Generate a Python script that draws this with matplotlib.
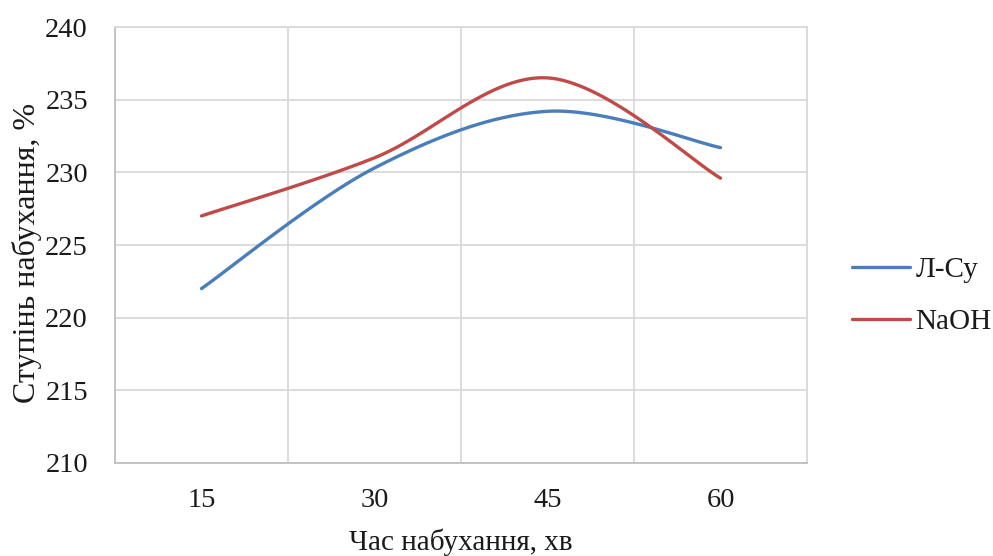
# Крива ступеня набухання від часу
import numpy as np
import matplotlib
matplotlib.use('Agg')
import matplotlib.pyplot as plt

# --- дані ---
categories = ['15', '30', '45', '60']
series_names = ['Л-Су', 'NaOH']
l_su = [222.0, 230.3, 234.2, 231.7]
naoh = [227.0, 231.0, 236.5, 229.6]
y_ticks = [210, 215, 220, 225, 230, 235, 240]

colors = ['#4a7ebb', '#be4b48']


def smooth(xs, ys, n=40):
    # згладжування як в Excel (кубічні криві Безьє, Catmull-Rom)
    xs = np.asarray(xs, float)
    ys = np.asarray(ys, float)
    px = np.concatenate([[xs[0]], xs, [xs[-1]]])
    py = np.concatenate([[ys[0]], ys, [ys[-1]]])
    t = np.linspace(0, 1, n)
    out_x, out_y = [], []
    for i in range(1, len(px) - 2):
        p0 = np.array([px[i], py[i]])
        p3 = np.array([px[i + 1], py[i + 1]])
        c1 = p0 + (p3 - np.array([px[i - 1], py[i - 1]])) / 6
        c2 = p3 - (np.array([px[i + 2], py[i + 2]]) - p0) / 6
        b = ((1 - t) ** 3)[:, None] * p0 + (3 * (1 - t) ** 2 * t)[:, None] * c1 \
            + (3 * (1 - t) * t ** 2)[:, None] * c2 + (t ** 3)[:, None] * p3
        out_x.extend(b[:, 0])
        out_y.extend(b[:, 1])
    return out_x, out_y


plt.rcParams['font.family'] = ['Liberation Serif', 'DejaVu Serif']

fig = plt.figure(figsize=(9.93, 5.56), dpi=100)
ax = fig.add_axes([0.1158, 0.1673, 0.6969, 0.7841])

x = np.arange(len(categories))
for name, vals, c in zip(series_names, [l_su, naoh], colors):
    sx, sy = smooth(x, vals)
    ax.plot(sx, sy, color=c, lw=2.4, label=name, solid_capstyle='round')

ax.set_xlim(-0.5, len(categories) - 0.5)
ax.set_ylim(210, 240)
ax.set_xticks(x)
ax.set_xticklabels(categories)
ax.set_xticks(np.arange(-0.5, len(categories), 1), minor=True)
ax.set_yticks(y_ticks)

ax.grid(True, which='minor', axis='x', color='#d9d9d9', lw=1.3)
ax.grid(True, which='major', axis='y', color='#d9d9d9', lw=1.3)
ax.set_axisbelow(True)
ax.tick_params(which='both', length=0, labelsize=20.5, labelcolor='#1a1a1a')
ax.tick_params(axis='x', pad=18)
ax.tick_params(axis='y', pad=19.5)

for s in ax.spines.values():
    s.set_color('#d9d9d9')
    s.set_linewidth(1.3)
ax.spines['left'].set_color('#bfbfbf')
ax.spines['bottom'].set_color('#bfbfbf')

ax.set_xlabel('Час набухання, хв', fontsize=21, color='#1a1a1a')
ax.xaxis.set_label_coords(0.5, -0.150)
ax.set_ylabel('Ступінь набухання, %', fontsize=23, labelpad=2,
              color='#1a1a1a', y=0.482)

ax.legend(loc='center left', bbox_to_anchor=(1.027, 0.383), frameon=False,
          fontsize=21, handlelength=2.0, handletextpad=0.17, labelspacing=0.89,
          labelcolor='#1a1a1a')

fig.savefig('out.png', dpi=100)
